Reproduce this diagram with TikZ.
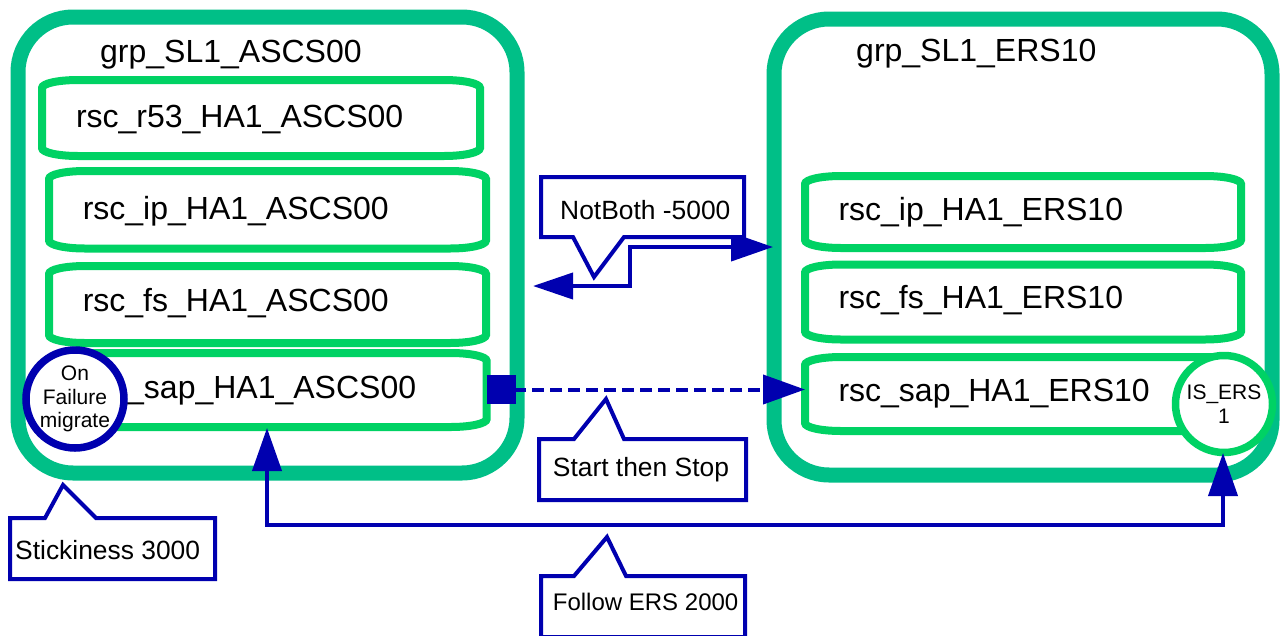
\documentclass[tikz,border=0pt]{standalone}
\usepackage{fontspec}
\setmainfont{Liberation Sans}
\usetikzlibrary{arrows.meta,calc,fit}
\definecolor{grpgreen}{RGB}{0,191,135}
\definecolor{rscgreen}{RGB}{0,210,100}
\definecolor{cblue}{RGB}{0,0,175}
% resource box: name, x0, y0, x1, y1 (pixel units, y downwards)
\newcommand\rscbox[5]{%
  \draw[rscline] (#2,#3+8) .. controls (#2,#3+3.5) and (#2+16,#3) .. (#2+36,#3)
    -- (#4-36,#3) .. controls (#4-16,#3) and (#4,#3+3.5) .. (#4,#3+8)
    -- (#4,#5-8) .. controls (#4,#5-3.5) and (#4-16,#5) .. (#4-36,#5)
    -- (#2+36,#5) .. controls (#2+16,#5) and (#2,#5-3.5) .. (#2,#5-8) -- cycle;
  \node[inner sep=0pt, outer sep=4pt, fit={(#2,#3) (#4,#5)}] (#1) {};
}
\begin{document}
\begin{tikzpicture}[x=1pt,y=-1pt,
  grp/.style={draw=grpgreen, line width=15pt, rounded corners=55pt, inner sep=0pt, outer sep=0pt},
  rscline/.style={draw=rscgreen, line width=8pt, fill=white},
  bigtext/.style={anchor=base west, inner sep=0pt, font=\fontsize{32}{38}\selectfont},
  calltext/.style={anchor=base west, inner sep=0pt, font=\fontsize{26.4}{31}\selectfont},
  cbox/.style={inner sep=0pt, outer sep=0pt},
  callout/.style={draw=cblue, line width=4pt, fill=white},
  conn/.style={draw=cblue, line width=4pt},
  circtext/.style={circle, line width=7.5pt, fill=white, inner sep=0pt, outer sep=0pt, align=center, font=\fontsize{21}{23.5}\selectfont}
]
\path[use as bounding box, fill=white] (0,0) rectangle (1284,635);
\clip (0,0) rectangle (1284,635);

% groups
\node[grp, minimum width=499pt, minimum height=456pt] (g1) at (267.5,245) {};
\node[grp, minimum width=498pt, minimum height=456pt] (g2) at (1023,247) {};
\node[bigtext] (g1t) at (100,62) {grp\_SL1\_ASCS00};
\node[bigtext] (g2t) at (856,61) {grp\_SL1\_ERS10};

% resources left
\rscbox{r53}{42}{80}{480}{156}
\rscbox{ip1}{49}{171}{486}{248.5}
\rscbox{fs1}{49}{266}{486}{343}
\rscbox{sap1}{49}{353}{486.7}{427}
\node[bigtext] (r53t) at (75.8,127) {rsc\_r53\_HA1\_ASCS00};
\node[bigtext] (ip1t) at (82.6,219) {rsc\_ip\_HA1\_ASCS00};
\node[bigtext] (fs1t) at (82.6,311.5) {rsc\_fs\_HA1\_ASCS00};
\node[bigtext] (sap1t) at (126,398) {\_sap\_HA1\_ASCS00};

% resources right
\rscbox{ip2}{805}{176}{1241}{248}
\rscbox{fs2}{805}{264.5}{1241}{339.5}
\rscbox{sap2}{805}{357}{1241}{431}
\node[bigtext] (ip2t) at (838.3,220) {rsc\_ip\_HA1\_ERS10};
\node[bigtext] (fs2t) at (838.3,308) {rsc\_fs\_HA1\_ERS10};
\node[bigtext] (sap2t) at (838.3,401) {rsc\_sap\_HA1\_ERS10};

% circles
\node[circtext, draw=cblue, minimum size=98pt] (fail) at (75,399) {On\\Failure\\migrate};
\node[circtext, draw=rscgreen, minimum size=97pt] (iers) at (1224,404) {IS\_ERS\\1};

% connectors
\coordinate (nbL) at (533,286);
\coordinate (nbR) at (773,247);
\draw[conn, {Triangle[length=40pt,width=26pt]}-{Triangle[length=42pt,width=28pt]}]
  (nbL) -- (630,286) -- (630,247) -- (nbR);

\coordinate (sq) at (487,389.5);
\coordinate (dtip) at (805,389.5);
\draw[conn, dash pattern=on 12pt off 6pt, {Square[length=29pt,width=29pt]}-{Triangle[length=42pt,width=29pt]}]
  (sq) -- (dtip);

\coordinate (fL) at (267,428);
\coordinate (fR) at (1223,453);
\draw[conn, {Triangle[length=43pt,width=29pt]}-{Triangle[length=43pt,width=29pt]}]
  (fL) -- (267,525) -- (1223,525) -- (fR);

% callouts
\node[cbox, minimum width=203pt, minimum height=60pt] (nb) at (642.5,207) {};
\draw[callout] (nb.north west) -- (nb.north east) -- (nb.south east) -- (624,237) -- (594,277) -- (573,237) -- (nb.south west) -- cycle;
\node[calltext] (nbt) at (560,219.3) {NotBoth -5000};

\node[cbox, minimum width=207pt, minimum height=61pt] (ss) at (642.5,469.5) {};
\draw[callout] (ss.south west) -- (ss.north west) -- (574,439) -- (606,399) -- (624,439) -- (ss.north east) -- (ss.south east) -- cycle;
\node[calltext] (sst) at (552.7,476.7) {Start then Stop};

\node[cbox, minimum width=205pt, minimum height=61pt] (st) at (112.5,548.5) {};
\draw[callout] (st.south west) -- (st.north west) -- (45,518) -- (63,485) -- (96,518) -- (st.north east) -- (st.south east) -- cycle;
\node[calltext] (stt) at (15,559.3) {Stickiness 3000};

\node[cbox, minimum width=204pt, minimum height=61pt] (fe) at (643,606.5) {};
\draw[callout] (fe.south west) -- (fe.north west) -- (574,576) -- (607,537) -- (626,576) -- (fe.north east) -- (fe.south east) -- cycle;
\node[calltext, font=\fontsize{24}{29}\selectfont] (fet) at (552.7,610.7) {Follow ERS 2000};
\end{tikzpicture}
\end{document}
